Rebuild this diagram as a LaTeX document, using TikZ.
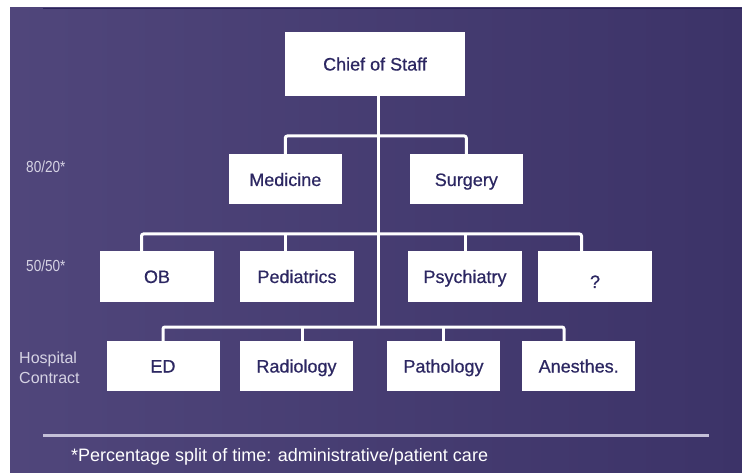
\documentclass[tikz,border=0pt]{standalone}
\usepackage{fontspec}
\setmainfont{Liberation Sans}
\newfontfamily\boxfont{Liberation Sans}[FakeBold=0.6]
\usetikzlibrary{calc}
\definecolor{bgleft}{RGB}{80,70,123}
\definecolor{bgright}{RGB}{60,51,104}
\definecolor{boxtext}{RGB}{44,39,98}
\definecolor{sidetext}{RGB}{214,211,228}
\definecolor{rulecol}{RGB}{196,192,216}
\definecolor{topedge}{RGB}{42,36,90}
\tikzset{
  orgbox/.style={fill=white, draw=none, inner sep=0pt, text=boxtext,
    font=\boxfont\fontsize{18}{21}\selectfont, text height=13pt, text depth=0pt},
  smallbox/.style={orgbox, minimum width=113pt, minimum height=50pt},
  link/.style={draw=white, line width=3pt, rounded corners=2pt},
  sidelabel/.style={text=sidetext, inner sep=0pt, anchor=west,
    font=\fontsize{16}{20}\selectfont, align=left},
}
\begin{document}
\begin{tikzpicture}[x=1pt, y=-1pt]
  \useasboundingbox (0,0) rectangle (742,473);
  % slide background
  \shade[left color=bgleft, right color=bgright] (10,8) rectangle (742,473);
  \draw[topedge, line width=1.2pt] (43,8.3) -- (742,8.3);

  % boxes
  \node[orgbox, minimum width=180pt, minimum height=64pt] (chief) at (375,64) {Chief of Staff};
  \node[smallbox] (med)  at (285.3,179.5) {Medicine};
  \node[smallbox] (surg) at (466.3,179.5) {Surgery};
  \node[smallbox, minimum width=114pt, minimum height=51pt] (ob)   at (157,276.5) {OB};
  \node[smallbox, minimum width=114pt, minimum height=51pt] (ped)  at (297,276.5) {Pediatrics};
  \node[smallbox, minimum width=114pt, minimum height=51pt] (psy)  at (465,276.5) {Psychiatry};
  \node[smallbox, minimum width=114pt, minimum height=51pt] (q) at (595,276.5) {\raisebox{-5pt}[13pt][0pt]{?}};
  \node[smallbox] (ed)   at (163,366) {ED};
  \node[smallbox] (rad)  at (296.5,366) {Radiology};
  \node[smallbox] (path) at (443.5,366) {Pathology};
  \node[smallbox] (anes) at (578.7,366) {Anesthes.};

  % bar levels and drop points
  \coordinate (tk) at (378,0);
  \coordinate (b1) at (0,136);
  \coordinate (b2) at (0,234);
  \coordinate (b3) at (0,327);
  \coordinate (dob)  at ($(ob.north)+(-15.5,0)$);
  \coordinate (dped) at ($(ped.north)+(-12,0)$);
  \coordinate (dq)   at ($(q.north)+(-13.5,0)$);
  \coordinate (drad) at ($(rad.north)+(5.5,0)$);
  \coordinate (danes) at ($(anes.north)+(-14.7,0)$);

  % connectors
  \draw[link] (chief.south -| tk) -- (b3 -| tk);
  \draw[link] (med.north) -- (med.north |- b1) -- (surg.north |- b1) -- (surg.north);
  \draw[link] (dob) -- (dob |- b2) -- (dq |- b2) -- (dq);
  \draw[link] (dped) -- (dped |- b2);
  \draw[link] (psy.north) -- (psy.north |- b2);
  \draw[link] (ed.north) -- (ed.north |- b3) -- (danes |- b3) -- (danes);
  \draw[link] (drad) -- (drad |- b3);
  \draw[link] (path.north) -- (path.north |- b3);

  % level labels
  \node[sidelabel] (l1) at (26,167) {\scalebox{0.85}[1]{80/20*}};
  \node[sidelabel] (l2) at (26,266) {\scalebox{0.85}[1]{50/50*}};
  \node[sidelabel] (l3) at (19,368) {Hospital\\Contract};

  % footnote
  \coordinate (ra) at (43,435.7);
  \coordinate (rb) at (709,435.7);
  \draw[rulecol, line width=3pt] (ra) -- (rb);
  \node[anchor=west, inner sep=0pt, text=white, font=\fontsize{18}{21}\selectfont]
    (note) at (71,457) {*Percentage split of time: administrative/patient care};
\end{tikzpicture}
\end{document}
